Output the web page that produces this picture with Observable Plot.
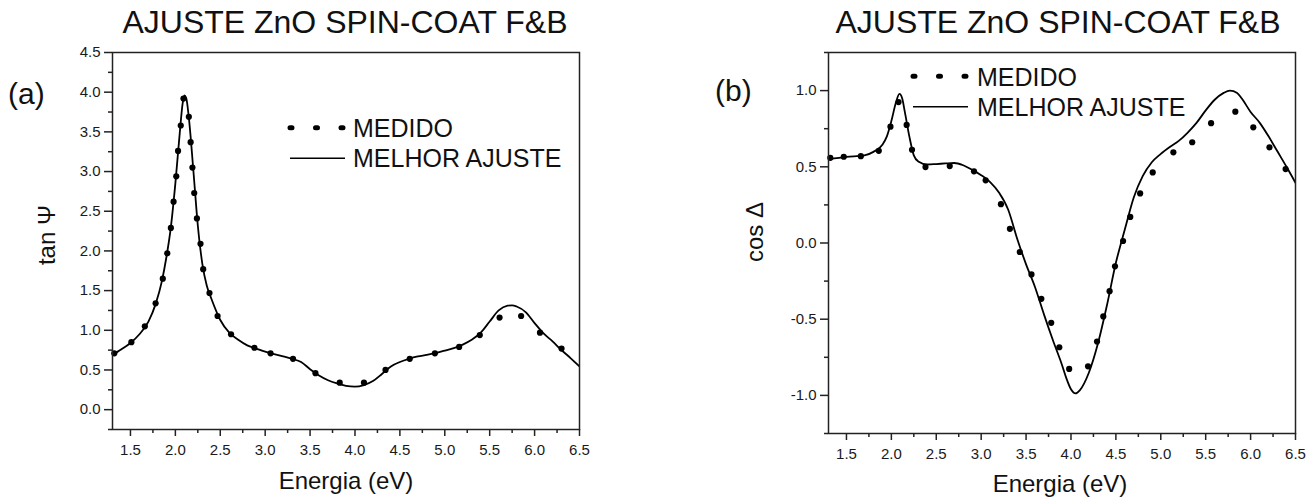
<!DOCTYPE html>
<html><head><meta charset="utf-8">
<script src="https://cdn.jsdelivr.net/npm/d3@7"></script>
<script src="https://cdn.jsdelivr.net/npm/@observablehq/plot@0.6"></script>
<style>
body{margin:0;background:#fff;font-family:"Liberation Sans",Arial,sans-serif;}
#wrap{position:relative;width:1315px;height:500px;overflow:hidden;background:#fff;}
#wrap > div.panel{position:absolute;}
#overlay{position:absolute;left:0;top:0;pointer-events:none;}
</style></head><body><div id="wrap"></div>
<script>
// ---------- data ----------
const panelTitle = "AJUSTE ZnO SPIN-COAT F&B";
const panelTags = ["(a)", "(b)"];
const yLabels = ["tan \u03A8", "cos \u0394"];
const xLabel = "Energia (eV)";
const seriesNames = ["MEDIDO", "MELHOR AJUSTE"];

const xDomain = [1.3, 6.5];
const xTicks = [1.5, 2.0, 2.5, 3.0, 3.5, 4.0, 4.5, 5.0, 5.5, 6.0, 6.5];
const xMinor = [1.75, 2.25, 2.75, 3.25, 3.75, 4.25, 4.75, 5.25, 5.75, 6.25];

const yDomainA = [-0.25, 4.5];
const yTicksA = [0.0, 0.5, 1.0, 1.5, 2.0, 2.5, 3.0, 3.5, 4.0, 4.5];
const yMinorA = [-0.25, 0.25, 0.75, 1.25, 1.75, 2.25, 2.75, 3.25, 3.75, 4.25];

const yDomainB = [-1.25, 1.25];
const yTicksB = [-1.0, -0.5, 0.0, 0.5, 1.0];
const yMinorB = [-1.25, -0.75, -0.25, 0.25, 0.75, 1.25];

// (a) tan Psi — measured
const energyMedA = [1.32,1.51,1.66,1.78,1.86,1.91,1.95,1.98,2.01,2.03,2.06,2.09,2.15,2.17,2.19,2.21,2.24,2.28,2.31,2.38,2.47,2.62,2.88,3.06,3.31,3.56,3.83,4.10,4.34,4.61,4.89,5.16,5.39,5.61,5.85,6.06,6.30];
const tanPsiMed = [0.71,0.85,1.05,1.34,1.65,1.97,2.29,2.62,2.94,3.26,3.58,3.92,3.69,3.37,3.05,2.73,2.41,2.09,1.77,1.47,1.18,0.95,0.78,0.71,0.64,0.46,0.34,0.34,0.50,0.64,0.71,0.79,0.94,1.16,1.18,0.97,0.77];
// (a) tan Psi — best fit
const energyFitA = [1.3,1.4,1.5,1.6,1.7,1.78,1.85,1.9,1.95,2.0,2.05,2.08,2.1,2.12,2.15,2.2,2.25,2.3,2.35,2.4,2.5,2.6,2.7,2.8,2.9,3.0,3.1,3.2,3.3,3.4,3.5,3.6,3.7,3.8,3.9,4.0,4.1,4.2,4.3,4.4,4.5,4.6,4.7,4.8,4.9,5.0,5.1,5.2,5.3,5.4,5.5,5.6,5.7,5.75,5.8,5.9,6.0,6.1,6.2,6.3,6.4,6.5];
const tanPsiFit = [0.69,0.76,0.84,0.95,1.11,1.33,1.62,1.92,2.30,2.85,3.50,3.85,3.96,3.93,3.68,3.02,2.32,1.84,1.56,1.40,1.13,0.97,0.88,0.81,0.77,0.73,0.70,0.67,0.64,0.60,0.51,0.43,0.37,0.33,0.30,0.29,0.31,0.36,0.45,0.545,0.60,0.64,0.67,0.69,0.715,0.745,0.775,0.82,0.88,0.97,1.11,1.25,1.31,1.315,1.30,1.23,1.09,0.96,0.86,0.75,0.65,0.545];

// (b) cos Delta — measured
const energyMedB = [1.32,1.47,1.66,1.86,1.99,2.08,2.17,2.23,2.38,2.65,2.92,3.05,3.22,3.32,3.43,3.56,3.67,3.78,3.87,3.98,4.19,4.29,4.36,4.43,4.49,4.58,4.66,4.77,4.91,5.14,5.35,5.56,5.83,6.03,6.21,6.39];
const cosDeltaMed = [0.559,0.566,0.570,0.605,0.763,0.925,0.775,0.612,0.498,0.505,0.470,0.411,0.255,0.093,-0.059,-0.206,-0.366,-0.524,-0.684,-0.826,-0.809,-0.647,-0.482,-0.316,-0.153,0.013,0.171,0.325,0.463,0.595,0.661,0.786,0.862,0.759,0.628,0.485];
// (b) cos Delta — best fit
const energyFitB = [1.3,1.5,1.7,1.8,1.9,1.95,2.0,2.05,2.09,2.12,2.15,2.2,2.25,2.3,2.4,2.5,2.6,2.7,2.8,2.9,3.0,3.1,3.2,3.3,3.4,3.5,3.6,3.7,3.8,3.9,3.95,4.0,4.05,4.1,4.2,4.3,4.4,4.5,4.6,4.7,4.8,4.9,5.0,5.1,5.2,5.3,5.4,5.5,5.6,5.7,5.77,5.85,5.9,6.0,6.1,6.2,6.3,6.4,6.5];
const cosDeltaFit = [0.549,0.565,0.575,0.598,0.645,0.70,0.80,0.92,0.978,0.95,0.86,0.70,0.575,0.535,0.515,0.518,0.522,0.525,0.51,0.48,0.445,0.40,0.33,0.22,0.03,-0.14,-0.29,-0.47,-0.64,-0.80,-0.89,-0.96,-0.987,-0.965,-0.85,-0.66,-0.41,-0.13,0.09,0.30,0.44,0.53,0.585,0.63,0.67,0.725,0.79,0.87,0.94,0.985,1.0,0.985,0.95,0.86,0.79,0.70,0.60,0.50,0.395];

// ---------- helpers ----------
const zip = (xs, ys) => xs.map((e, i) => ({e, v: ys[i]}));
const FONT = "'Liberation Sans', Arial, Helvetica, sans-serif";
const AX = "#222";
const fmt = d => d.toFixed(1);

function panel({med, fit, yDomain, yTicks, yMinor, width, height, mL, mR, mT, mB}) {
  return Plot.plot({
    width, height,
    marginLeft: mL, marginRight: mR, marginTop: mT, marginBottom: mB,
    x: {domain: xDomain},
    y: {domain: yDomain},
    style: {fontFamily: FONT, fontSize: "15px", color: "#222", background: "transparent", overflow: "visible"},
    marks: [
      Plot.line(fit, {x: "e", y: "v", stroke: "#000", strokeWidth: 1.8, curve: "monotone-x", clip: true}),
      Plot.dot(med, {x: "e", y: "v", r: 3.1, fill: "#000", stroke: "none"}),
      Plot.frame({stroke: AX, strokeWidth: 1.5}),
      Plot.axisX(xMinor, {tickSize: 4, fill: "none", stroke: AX, strokeWidth: 1.5, label: null}),
      Plot.axisX(xTicks, {tickSize: 7, tickPadding: 8, stroke: AX, strokeWidth: 1.5, fill: "#1a1a1a", fontSize: 15, fontFamily: FONT, tickFormat: fmt, label: null}),
      Plot.axisY(yMinor, {tickSize: 4, fill: "none", stroke: AX, strokeWidth: 1.5, label: null}),
      Plot.axisY(yTicks, {tickSize: 8, tickPadding: 4, stroke: AX, strokeWidth: 1.5, fill: "#1a1a1a", fontSize: 15, fontFamily: FONT, tickFormat: fmt, label: null})
    ]
  });
}

const wrap = document.getElementById("wrap");

const plotA = panel({med: zip(energyMedA, tanPsiMed), fit: zip(energyFitA, tanPsiFit),
  yDomain: yDomainA, yTicks: yTicksA, yMinor: yMinorA,
  width: 620, height: 420, mL: 112, mR: 41, mT: 12, mB: 31});
const divA = document.createElement("div"); divA.className = "panel";
divA.style.left = "0px"; divA.style.top = "40px"; divA.appendChild(plotA); wrap.appendChild(divA);

const plotB = panel({med: zip(energyMedB, cosDeltaMed), fit: zip(energyFitB, cosDeltaFit),
  yDomain: yDomainB, yTicks: yTicksB, yMinor: yMinorB,
  width: 615, height: 424, mL: 128, mR: 20, mT: 12, mB: 31});
const divB = document.createElement("div"); divB.className = "panel";
divB.style.left = "700px"; divB.style.top = "40px"; divB.appendChild(plotB); wrap.appendChild(divB);

// ---------- titles, labels and legends ----------
const ov = d3.select(wrap).append("svg").attr("id", "overlay")
  .attr("width", 1315).attr("height", 500)
  .style("font-family", FONT).attr("fill", "#111");

const layout = [
  {titleX: 345, tag: [8, 104], ylab: [55, 235], xlab: [346, 489],
   dotsX: 290, dotsY: 127.7, lineX: [290, 345], lineY: 158.3, textX: 353, med: 137, fit: 167},
  {titleX: 1058, tag: [715, 100.5], ylab: [763, 232], xlab: [1060, 492],
   dotsX: 913, dotsY: 76.3, lineX: [913, 968], lineY: 106.7, textX: 977, med: 85.5, fit: 115.5}
];

layout.forEach((L, i) => {
  ov.append("text").attr("x", L.titleX).attr("y", 33).attr("text-anchor", "middle")
    .attr("font-size", 32).text(panelTitle);
  ov.append("text").attr("x", L.tag[0]).attr("y", L.tag[1]).attr("font-size", 30).text(panelTags[i]);
  ov.append("text").attr("transform", `translate(${L.ylab[0]},${L.ylab[1]}) rotate(-90)`)
    .attr("text-anchor", "middle").attr("font-size", 24).text(yLabels[i]);
  ov.append("text").attr("x", L.xlab[0]).attr("y", L.xlab[1]).attr("text-anchor", "middle")
    .attr("font-size", 24).text(xLabel);
  // legend: dotted (measured) and solid (fit)
  ov.append("line").attr("x1", L.dotsX).attr("x2", L.dotsX + 55).attr("y1", L.dotsY).attr("y2", L.dotsY)
    .attr("stroke", "#000").attr("stroke-width", 5).attr("stroke-linecap", "round")
    .attr("stroke-dasharray", "2 23.5");
  ov.append("line").attr("x1", L.lineX[0]).attr("x2", L.lineX[1]).attr("y1", L.lineY).attr("y2", L.lineY)
    .attr("stroke", "#000").attr("stroke-width", 1.6);
  ov.append("text").attr("x", L.textX).attr("y", L.med).attr("font-size", 25).text(seriesNames[0]);
  ov.append("text").attr("x", L.textX).attr("y", L.fit).attr("font-size", 25).text(seriesNames[1]);
});
</script>
</body></html>
